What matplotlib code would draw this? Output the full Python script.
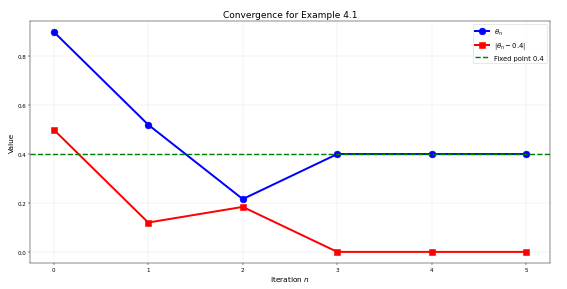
import matplotlib
matplotlib.use("Agg")
import matplotlib.pyplot as plt

iterations = [0, 1, 2, 3, 4, 5]
theta = [0.9, 0.52, 0.216, 0.4, 0.4, 0.4]
error = [0.5, 0.12, 0.184, 0.0, 0.0, 0.0]
fixed_point = 0.4

fig, ax = plt.subplots(figsize=(14, 7.16), dpi=40.5)
ax.plot(iterations, theta, 'o-', color='blue', linewidth=3.5, markersize=12, label=r'$\theta_n$')
ax.plot(iterations, error, 's-', color='red', linewidth=3.5, markersize=12, label=r'$|\theta_n - 0.4|$')
ax.axhline(fixed_point, color='green', linestyle='--', linewidth=2.5, label='Fixed point 0.4')
ax.set_title('Convergence for Example 4.1', fontsize=16)
ax.set_xlabel('Iteration $n$', fontsize=13)
ax.set_ylabel('Value', fontsize=13)
ax.grid(True, alpha=0.3)
ax.legend(fontsize=12)
fig.subplots_adjust(left=0.053, right=0.97, top=0.925, bottom=0.09)
fig.savefig('out.png', dpi=40.5)
